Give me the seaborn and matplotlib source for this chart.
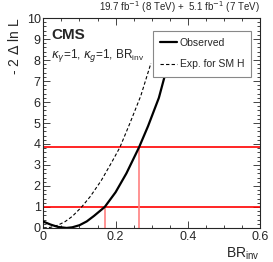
import pandas as pd
import seaborn as sns
import matplotlib.pyplot as plt
from matplotlib.ticker import MultipleLocator

# observed -2 delta lnL scan
obs_br = [0.0, 0.02, 0.04, 0.064, 0.08, 0.10, 0.12, 0.14, 0.17, 0.20, 0.23, 0.265, 0.29, 0.32, 0.345]
obs_nll = [0.30, 0.16, 0.05, 0.0, 0.03, 0.13, 0.31, 0.57, 1.0, 1.7, 2.6, 3.84, 4.85, 6.2, 7.8]

# expected for SM Higgs
exp_br = [0.0, 0.02, 0.04, 0.06, 0.08, 0.106, 0.13, 0.16, 0.19, 0.212, 0.24, 0.27, 0.298]
exp_nll = [0.0, 0.03, 0.13, 0.30, 0.55, 1.0, 1.5, 2.25, 3.15, 3.84, 5.0, 6.3, 7.85]

cl_levels = [1.0, 3.84]
cl_crossings = [0.17, 0.265]

sns.set_style('ticks')
plt.rcParams['font.family'] = ['Liberation Sans', 'DejaVu Sans']

obs = pd.DataFrame({'br': obs_br, 'nll': obs_nll})
exp = pd.DataFrame({'br': exp_br, 'nll': exp_nll})

fig = plt.figure(figsize=(2.73, 2.62), dpi=100)
ax = fig.add_axes([0.159, 0.130, 0.793, 0.801])

for lvl in cl_levels:
    ax.axhline(lvl, color='red', lw=1.2, zorder=1)
for x, lvl in zip(cl_crossings, cl_levels):
    ax.plot([x, x], [0, lvl], color='#ff8080', lw=1.2, zorder=1)

sns.lineplot(data=obs, x='br', y='nll', ax=ax, color='black', lw=1.6,
             label='Observed', zorder=3)
sns.lineplot(data=exp, x='br', y='nll', ax=ax, color='black', lw=0.8,
             linestyle=(0, (3, 2)), label='Exp. for SM H', zorder=3)

ax.set_xlim(0, 0.6)
ax.set_ylim(0, 10)
ax.xaxis.set_major_locator(MultipleLocator(0.2))
ax.xaxis.set_minor_locator(MultipleLocator(0.05))
ax.yaxis.set_major_locator(MultipleLocator(1))
ax.yaxis.set_minor_locator(MultipleLocator(0.2))
ax.set_xticks([0, 0.2, 0.4, 0.6], ['0', '0.2', '0.4', '0.6'])
ax.tick_params(which='both', direction='in', top=True, right=True, labelsize=9, pad=2)
ax.tick_params(which='major', length=5, width=0.6)
ax.tick_params(which='minor', length=2.5, width=0.6)
for s in ax.spines.values():
    s.set_linewidth(0.8)

ax.set_xlabel('BR$_{\\mathregular{inv}}$', fontsize=10)
ax.xaxis.set_label_coords(1.0, -0.082)
ax.xaxis.label.set_horizontalalignment('right')
ax.set_ylabel('- 2 $\\Delta$ ln L', fontsize=10)
ax.yaxis.set_label_coords(-0.168, 1.0)
ax.yaxis.label.set_verticalalignment('top')
ax.yaxis.label.set_horizontalalignment('right')

ax.text(0.035, 0.92, 'CMS', transform=ax.transAxes, fontsize=11,
        fontweight='bold', va='center')
ax.text(0.035, 0.82, '$\\kappa_\\gamma$=1, $\\kappa_g$=1, BR$_{\\mathregular{inv}}$',
        transform=ax.transAxes, fontsize=8.5, va='center')
ax.text(1.0, 1.015, '19.7 fb$^{-1}$ (8 TeV) +  5.1 fb$^{-1}$ (7 TeV)',
        transform=ax.transAxes, fontsize=7, ha='right', va='bottom')

leg = ax.legend(loc='upper right', bbox_to_anchor=(0.985, 0.965), fontsize=7.5,
                frameon=True, fancybox=False, handlelength=1.6,
                borderpad=0.7, labelspacing=1.1, handletextpad=0.3)
leg.get_frame().set_edgecolor('#888888')
leg.get_frame().set_linewidth(0.8)
leg.get_frame().set_alpha(1)

fig.savefig('out.png', dpi=100)
